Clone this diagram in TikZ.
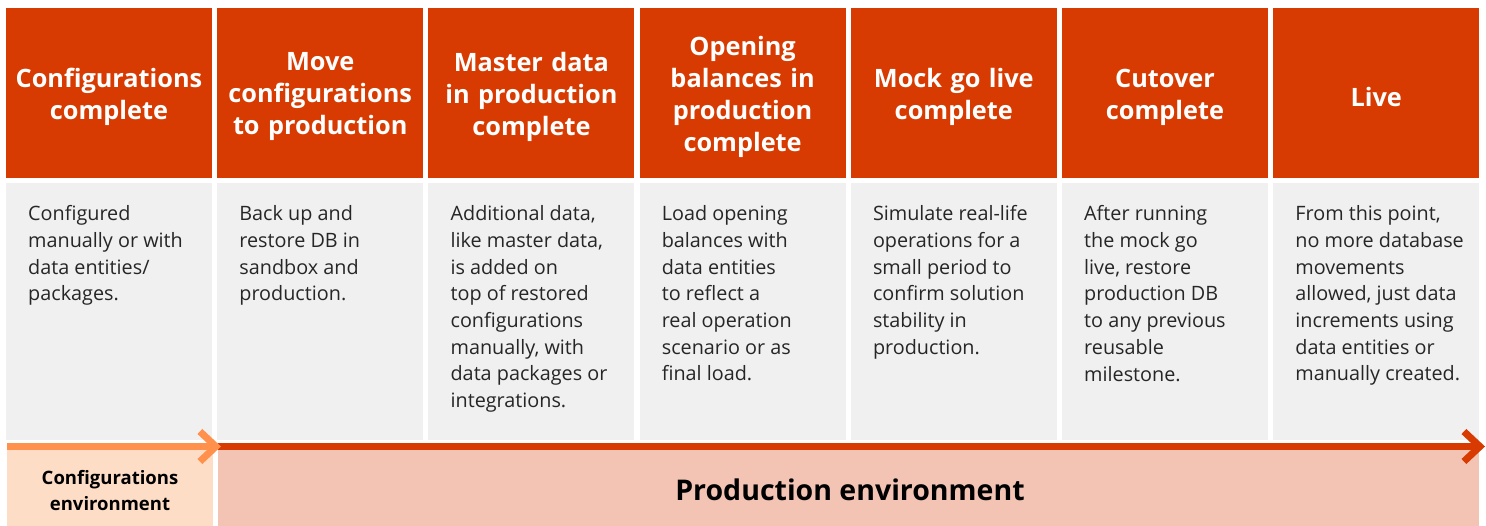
\documentclass[tikz,border=0pt]{standalone}
\usepackage{fontspec}
\setmainfont{Open Sans}
\usetikzlibrary{arrows.meta}
\definecolor{hdr}{HTML}{D83B01}
\definecolor{bodyg}{HTML}{F0F0F0}
\definecolor{confbox}{HTML}{FEDDC7}
\definecolor{prodbox}{HTML}{F3C4B4}
\definecolor{confarrow}{HTML}{FF914D}
\tikzset{
  hdrbox/.style={fill=hdr, text=white, minimum width=206pt, minimum height=170pt, inner sep=0pt,
    text width=204pt, align=center, font=\fontsize{25.3}{32}\selectfont\bfseries},
  hdrtxt/.style={yshift=-4pt},
  bodybox/.style={fill=bodyg, minimum width=206pt, minimum height=257pt, inner sep=0pt},
  bodytext/.style={anchor=north west, inner sep=0pt, align=left, text=black!85,
    font=\fontsize{19.8}{26.7}\selectfont},
  envarrow/.style={line width=7pt, -{Straight Barb[length=16pt,width=30pt]}},
}
\begin{document}
\begin{tikzpicture}[x=1pt,y=-1pt]
\useasboundingbox[fill=white] (0,0) rectangle (1486,526);
% headers
\node[hdrbox] (h1) at (109,93) {};
\node[hdrbox] (h2) at (320.2,93) {};
\node[hdrbox] (h3) at (531.4,93) {};
\node[hdrbox] (h4) at (742.6,93) {};
\node[hdrbox] (h5) at (953.8,93) {};
\node[hdrbox] (h6) at (1165,93) {};
\node[hdrbox] (h7) at (1376.2,93) {};
\node[hdrbox, fill=none, minimum height=0pt, hdrtxt] at (h1) {Configurations\\complete};
\node[hdrbox, fill=none, minimum height=0pt, hdrtxt] at (h2) {Move\\configurations\\to production};
\node[hdrbox, fill=none, minimum height=0pt, hdrtxt] at (h3) {Master data\\in production\\complete};
\node[hdrbox, fill=none, minimum height=0pt, hdrtxt] at (h4) {Opening\\balances in\\production\\complete};
\node[hdrbox, fill=none, minimum height=0pt, hdrtxt] at (h5) {Mock go live\\complete};
\node[hdrbox, fill=none, minimum height=0pt, hdrtxt] at (h6) {Cutover\\complete};
\node[hdrbox, fill=none, minimum height=0pt, hdrtxt] at (h7) {Live};
% bodies
\node[bodybox] (b1) at (109,311.5) {};
\node[bodybox] (b2) at (320.2,311.5) {};
\node[bodybox] (b3) at (531.4,311.5) {};
\node[bodybox] (b4) at (742.6,311.5) {};
\node[bodybox] (b5) at (953.8,311.5) {};
\node[bodybox] (b6) at (1165,311.5) {};
\node[bodybox] (b7) at (1376.2,311.5) {};
\node[bodytext] (t1) at (28,205.5) {Configured\\manually or with\\data entities/\\packages.};
\node[bodytext] (t2) at (239.2,205.5) {Back up and\\restore DB in\\sandbox and\\production.};
\node[bodytext] (t3) at (450.4,205.5) {Additional data,\\like master data,\\is added on\\top of restored\\configurations\\manually, with\\data packages or\\integrations.};
\node[bodytext] (t4) at (661.6,205.5) {Load opening\\balances with\\data entities\\to reflect a\\real operation\\scenario or as\\final load.};
\node[bodytext] (t5) at (872.8,205.5) {Simulate real-life\\operations for a\\small period to\\confirm solution\\stability in\\production.};
\node[bodytext] (t6) at (1084,205.5) {After running\\the mock go\\live, restore\\production DB\\to any previous\\reusable\\milestone.};
\node[bodytext] (t7) at (1295.2,205.5) {From this point,\\no more database\\movements\\allowed, just data\\increments using\\data entities or\\manually created.};
% environments
\node[fill=confbox, minimum width=206pt, minimum height=76pt, inner sep=0pt] (ce) at (110,488) {};
\node[align=center, inner sep=0pt, font=\bfseries\fontsize{18.5}{26}\selectfont] (cet) at (110,491) {Configurations\\environment};
\node[fill=prodbox, minimum width=1261pt, minimum height=76pt, inner sep=0pt] (pe) at (848.5,488) {};
\node[inner sep=0pt, font=\bfseries\fontsize{28.5}{34}\selectfont] (pet) at (850,490) {Production environment};
% arrows
\coordinate (r1) at (218,446.5);
\coordinate (r2) at (1485,446.5);
\coordinate (o1) at (7,446.5);
\coordinate (o2) at (221,446.5);
\draw[envarrow, draw=hdr] (r1) -- (r2);
\draw[envarrow, draw=confarrow] (o1) -- (o2);
\end{tikzpicture}
\end{document}
